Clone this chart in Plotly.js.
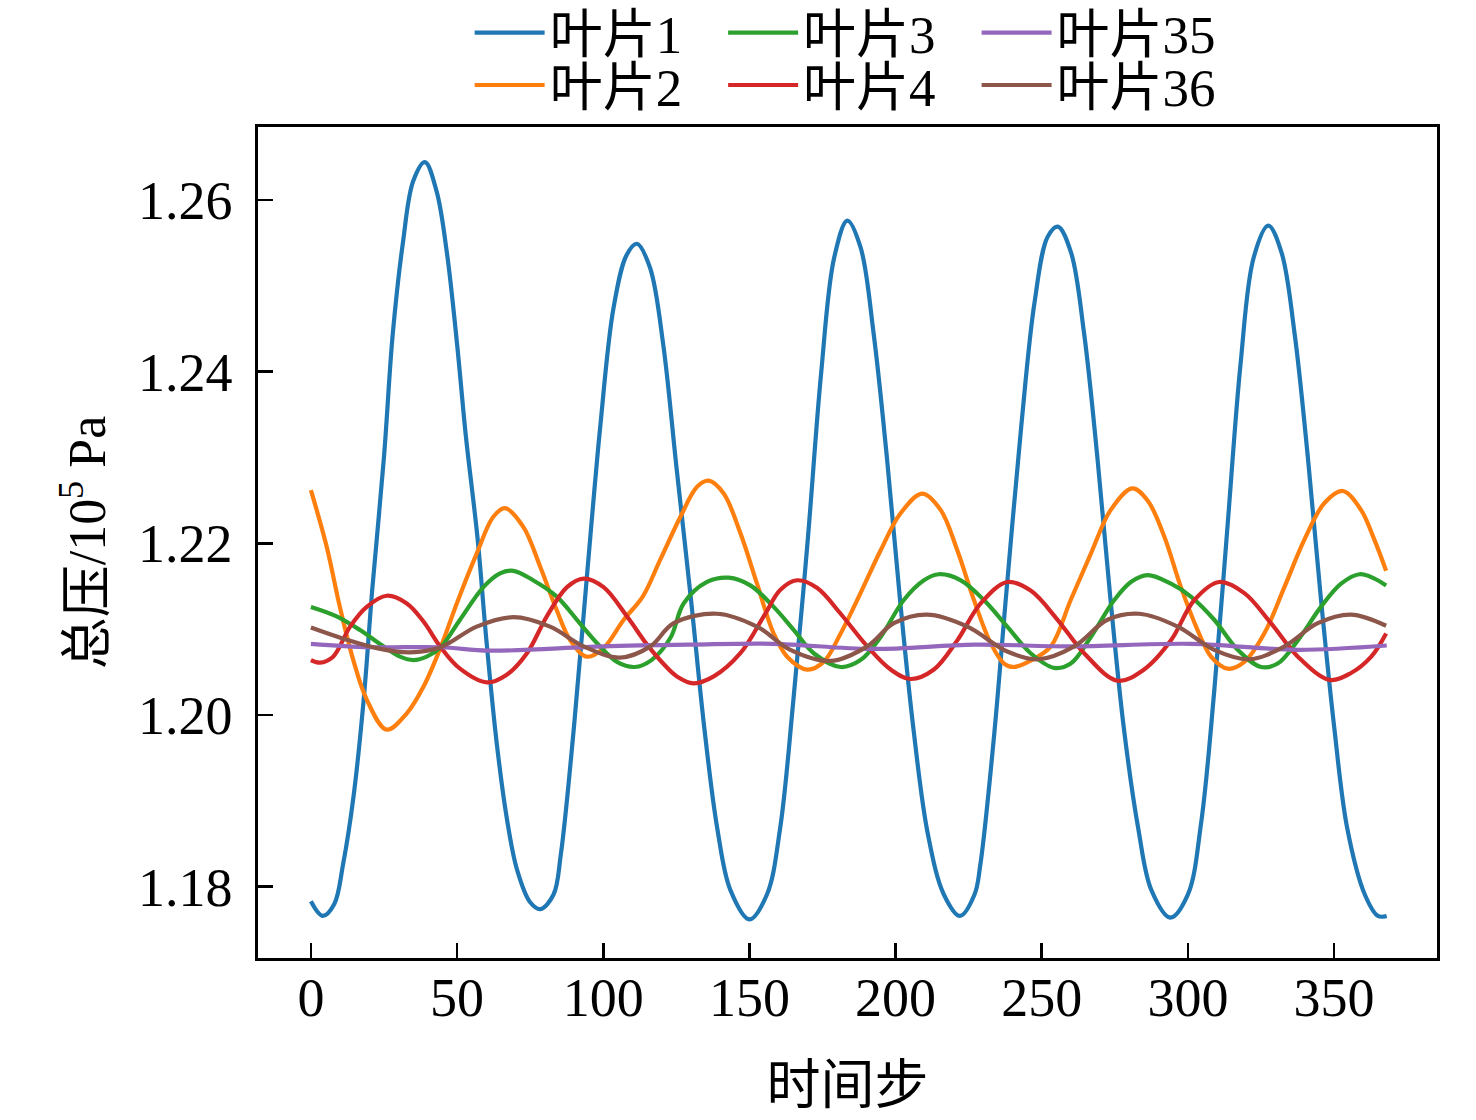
<!DOCTYPE html>
<html>
<head>
<meta charset="utf-8">
<script src="https://cdn.plot.ly/plotly-3.0.1.min.js"></script>
<style>html,body{margin:0;padding:0;background:#fff;}#chart{width:1476px;height:1120px;}</style>
</head>
<body>
<div id="chart"></div>
<script>
// ---- data ----
const seriesNames = ['叶片1', '叶片2', '叶片3', '叶片4', '叶片35', '叶片36'];

const blade1X = [0, 4, 8, 11, 14.5, 18, 21, 25, 28, 31.5, 35, 39, 43, 46.5, 50, 53, 57, 60, 63.5, 67, 70.5, 75, 78.5, 83,
  85.5, 90, 94.5, 99, 103.5, 108, 111.5, 116, 120.5, 125, 130, 134.5, 139, 143.5, 150, 156, 160.5, 165, 170, 174.5, 179,
  183.5, 188, 192.5, 197, 201.5, 206, 211, 216.5, 222, 227, 229, 233.5, 238, 243, 247.5, 252, 255.5, 260, 264.5, 269,
  273.5, 278, 283, 287.5, 294, 300, 304.5, 309, 313.5, 318, 322.5, 327.5, 332, 336.5, 341, 345.5, 350, 354.5, 360.5, 365, 368];
const blade1Y = [1.1783, 1.1766, 1.1780, 1.1826, 1.1903, 1.2016, 1.2147, 1.2301, 1.2444, 1.2551, 1.2622, 1.2644, 1.2610,
  1.2539, 1.2432, 1.2325, 1.2206, 1.2088, 1.1969, 1.1880, 1.1820, 1.1782, 1.1774, 1.1791,
  1.1838, 1.1987, 1.2165, 1.2337, 1.2474, 1.2536, 1.2549, 1.2521, 1.2432, 1.2290, 1.2135, 1.1987, 1.1868, 1.1796, 1.1762,
  1.1791, 1.1868, 1.2016, 1.2206, 1.2397, 1.2533, 1.2576, 1.2545, 1.2444, 1.2301, 1.2135, 1.1987, 1.1862, 1.1791, 1.1766,
  1.1791, 1.1826, 1.1969, 1.2147, 1.2337, 1.2480, 1.2557, 1.2569, 1.2539, 1.2444, 1.2301, 1.2135, 1.1987, 1.1868, 1.1796,
  1.1764, 1.1791, 1.1874, 1.2028, 1.2218, 1.2409, 1.2533, 1.2570, 1.2539, 1.2444, 1.2301, 1.2135, 1.1987, 1.1868, 1.1791,
  1.1766, 1.1766];

const blade2X = [0, 5.4, 9.9, 14.5, 19.1, 25.9, 32.8, 38.5, 44.4, 49.9, 56.7, 62.4, 66.4, 72.7, 78.4, 84.1, 88.7, 94.4,
  100.1, 107, 113.5, 119.5, 126.4, 132.1, 136.1, 141.2, 146.9, 152.6, 158.3, 162.9, 169.8, 175.4, 181.2, 188, 194.9, 201.7,
  209.1, 215.4, 221.1, 226.8, 232.5, 237.1, 240.5, 246.5, 253.1, 259.9, 266.8, 273.6, 281, 286.2, 291.9, 297.6, 303.3,
  307.9, 313.6, 319.3, 326.1, 333, 339.8, 346.7, 353, 359.2, 363.8, 367.8];
const blade2Y = [1.2262, 1.2196, 1.2126, 1.2064, 1.2018, 1.1983, 1.2002, 1.2033, 1.2079, 1.2130, 1.2188, 1.2231, 1.2241,
  1.2219, 1.2173, 1.2122, 1.2087, 1.2068, 1.2078, 1.2111, 1.2138, 1.2181, 1.2231, 1.2266, 1.2273, 1.2258, 1.2212, 1.2153,
  1.2095, 1.2068, 1.2053, 1.2062, 1.2095, 1.2142, 1.2192, 1.2235, 1.2258, 1.2239, 1.2192, 1.2134, 1.2084, 1.2060, 1.2056,
  1.2064, 1.2080, 1.2134, 1.2188, 1.2239, 1.2264, 1.2250, 1.2208, 1.2149, 1.2099, 1.2068, 1.2054, 1.2062, 1.2095, 1.2149,
  1.2204, 1.2247, 1.2261, 1.2239, 1.2204, 1.2168];

const blade3X = [0, 8.8, 16.8, 24.8, 30.5, 35, 39.6, 44.4, 51, 59, 64.7, 69.3, 76, 84.1, 91, 97.8, 104.7, 110.8, 116.5,
  123, 127.5, 135.5, 142.9, 150.3, 158.3, 165.2, 172, 181.2, 188, 194.9, 202.8, 209.7, 214.8, 222.3, 230.2, 238.2, 246.2,
  254.2, 259.9, 266.8, 274.8, 280.5, 286.2, 294.2, 301, 309, 317, 325, 330.7, 337.6, 345.5, 352.4, 358.7, 363.8, 367.8];
const blade3Y = [1.2126, 1.2115, 1.2099, 1.2080, 1.2068, 1.2064, 1.2068, 1.2079, 1.2111, 1.2149, 1.2165, 1.2168, 1.2157,
  1.2138, 1.2111, 1.2084, 1.2062, 1.2056, 1.2064, 1.2090, 1.2130, 1.2155, 1.2160, 1.2151, 1.2126, 1.2099, 1.2072, 1.2056,
  1.2064, 1.2091, 1.2134, 1.2157, 1.2164, 1.2157, 1.2134, 1.2103, 1.2072, 1.2055, 1.2060, 1.2091, 1.2134, 1.2155, 1.2163,
  1.2153, 1.2138, 1.2111, 1.2076, 1.2056, 1.2060, 1.2087, 1.2126, 1.2153, 1.2164, 1.2159, 1.2151];

const blade4X = [0, 3.1, 7.6, 13.4, 19.1, 25.9, 32.8, 38.5, 44.4, 51, 60.2, 67, 73.9, 80.7, 87.6, 93.3, 100.1, 108.1,
  115, 120.5, 125.2, 130.9, 137.8, 146.9, 154.9, 160.6, 166.3, 173.2, 181.2, 190.3, 198.3, 205.1, 213.1, 221.1, 229.1,
  238.2, 246.2, 255.4, 264.5, 275.9, 285, 294.2, 302.2, 310.7, 319.3, 328.4, 337.6, 348.4, 355.8, 362.7, 367.8];
const blade4Y = [1.2064, 1.2061, 1.2068, 1.2103, 1.2126, 1.2139, 1.2130, 1.2109, 1.2079, 1.2054, 1.2038, 1.2047, 1.2072,
  1.2115, 1.2149, 1.2159, 1.2149, 1.2115, 1.2082, 1.2060, 1.2045, 1.2037, 1.2045, 1.2072, 1.2115, 1.2146, 1.2157, 1.2148,
  1.2118, 1.2080, 1.2053, 1.2042, 1.2053, 1.2087, 1.2130, 1.2155, 1.2145, 1.2111, 1.2072, 1.2040, 1.2053, 1.2087, 1.2134,
  1.2155, 1.2142, 1.2107, 1.2068, 1.2041, 1.2049, 1.2068, 1.2095];

const blade35X = [0, 20, 44.4, 61, 100, 130, 158, 192, 227, 260, 301, 337.6, 368];
const blade35Y = [1.2083, 1.2079, 1.2079, 1.2075, 1.2080, 1.2082, 1.2083, 1.2077, 1.2082, 1.2080, 1.2083, 1.2076, 1.2081];

const blade36X = [0, 11.1, 22.5, 33.9, 44.4, 56.7, 69.3, 81.8, 93.3, 105.8, 116.1, 124.1, 138.9, 152.6, 164, 177.7, 190.3,
  199.4, 210.8, 224.6, 238.2, 249, 261.1, 272.5, 283.3, 296.5, 309, 321, 333, 344.4, 355.8, 367.8];
const blade36Y = [1.2102, 1.2089, 1.2078, 1.2073, 1.2079, 1.2103, 1.2114, 1.2103, 1.2080, 1.2067, 1.2080, 1.2107, 1.2118,
  1.2103, 1.2076, 1.2063, 1.2080, 1.2107, 1.2117, 1.2103, 1.2074, 1.2065, 1.2080, 1.2111, 1.2118, 1.2103, 1.2076, 1.2065,
  1.2080, 1.2107, 1.2117, 1.2104];

const xTickVals = [0, 50, 100, 150, 200, 250, 300, 350];
const yTickVals = [1.18, 1.20, 1.22, 1.24, 1.26];
const yTickText = ['1.18', '1.20', '1.22', '1.24', '1.26'];

// ---- styling ----
const colors = ['#1f77b4', '#ff7f0e', '#2ca02c', '#d62728', '#9467bd', '#8c564b'];
const legendIds = ['legend', 'legend2', 'legend3', 'legend4', 'legend5', 'legend6'];
// legend grid: column (0..2) and row (0..1) of each entry
const legendCol = [0, 0, 1, 1, 2, 2];
const legendRow = [0, 1, 0, 1, 0, 1];
const colX = [0.1795, 0.3945, 0.6095];
const rowY = [1.1135, 1.0505];
const xs = [blade1X, blade2X, blade3X, blade4X, blade35X, blade36X];
const ys = [blade1Y, blade2Y, blade3Y, blade4Y, blade35Y, blade36Y];
const FONT = '"Liberation Serif", "Times New Roman", "Noto Sans CJK SC", serif';

const traces = seriesNames.map((name, i) => ({
  type: 'scatter', mode: 'lines', name: name,
  x: xs[i], y: ys[i],
  line: {color: colors[i], width: 4.2, shape: 'spline', smoothing: 1},
  legend: legendIds[i]
}));

const layout = {
  width: 1476, height: 1120,
  margin: {l: 258, r: 39, t: 127, b: 162, autoexpand: false},
  paper_bgcolor: '#fff', plot_bgcolor: '#fff',
  font: {family: FONT, size: 54, color: '#000'},
  showlegend: true,
  xaxis: {
    range: [-18.1, 385.2],
    tickvals: xTickVals,
    ticks: 'inside', ticklen: 15, tickwidth: 2.8, tickcolor: '#000',
    showline: true, linecolor: '#000', linewidth: 2.8, mirror: true,
    showgrid: false, zeroline: false,
    tickfont: {family: FONT, size: 54, color: '#000'},
    ticklabelstandoff: -10,
    title: {text: '时间步', font: {family: FONT, size: 54, color: '#000'}, standoff: 40}
  },
  yaxis: {
    range: [1.1717, 1.2685],
    tickvals: yTickVals, ticktext: yTickText,
    ticks: 'inside', ticklen: 15, tickwidth: 2.8, tickcolor: '#000',
    showline: true, linecolor: '#000', linewidth: 2.8, mirror: true,
    showgrid: false, zeroline: false,
    tickfont: {family: FONT, size: 54, color: '#000'},
    ticklabelstandoff: 12,
    title: {text: '总压/10<sup>5</sup> Pa', font: {family: FONT, size: 52, color: '#000'}, standoff: 16}
  }
};
legendIds.forEach((id, i) => {
  layout[id] = {
    orientation: 'v', xanchor: 'left', yanchor: 'middle',
    x: colX[legendCol[i]], y: rowY[legendRow[i]],
    font: {family: FONT, size: 53, color: '#000'},
    bgcolor: 'rgba(0,0,0,0)', itemwidth: 70
  };
});

Plotly.newPlot('chart', traces, layout, {displayModeBar: false, staticPlot: true});
</script>
</body>
</html>
